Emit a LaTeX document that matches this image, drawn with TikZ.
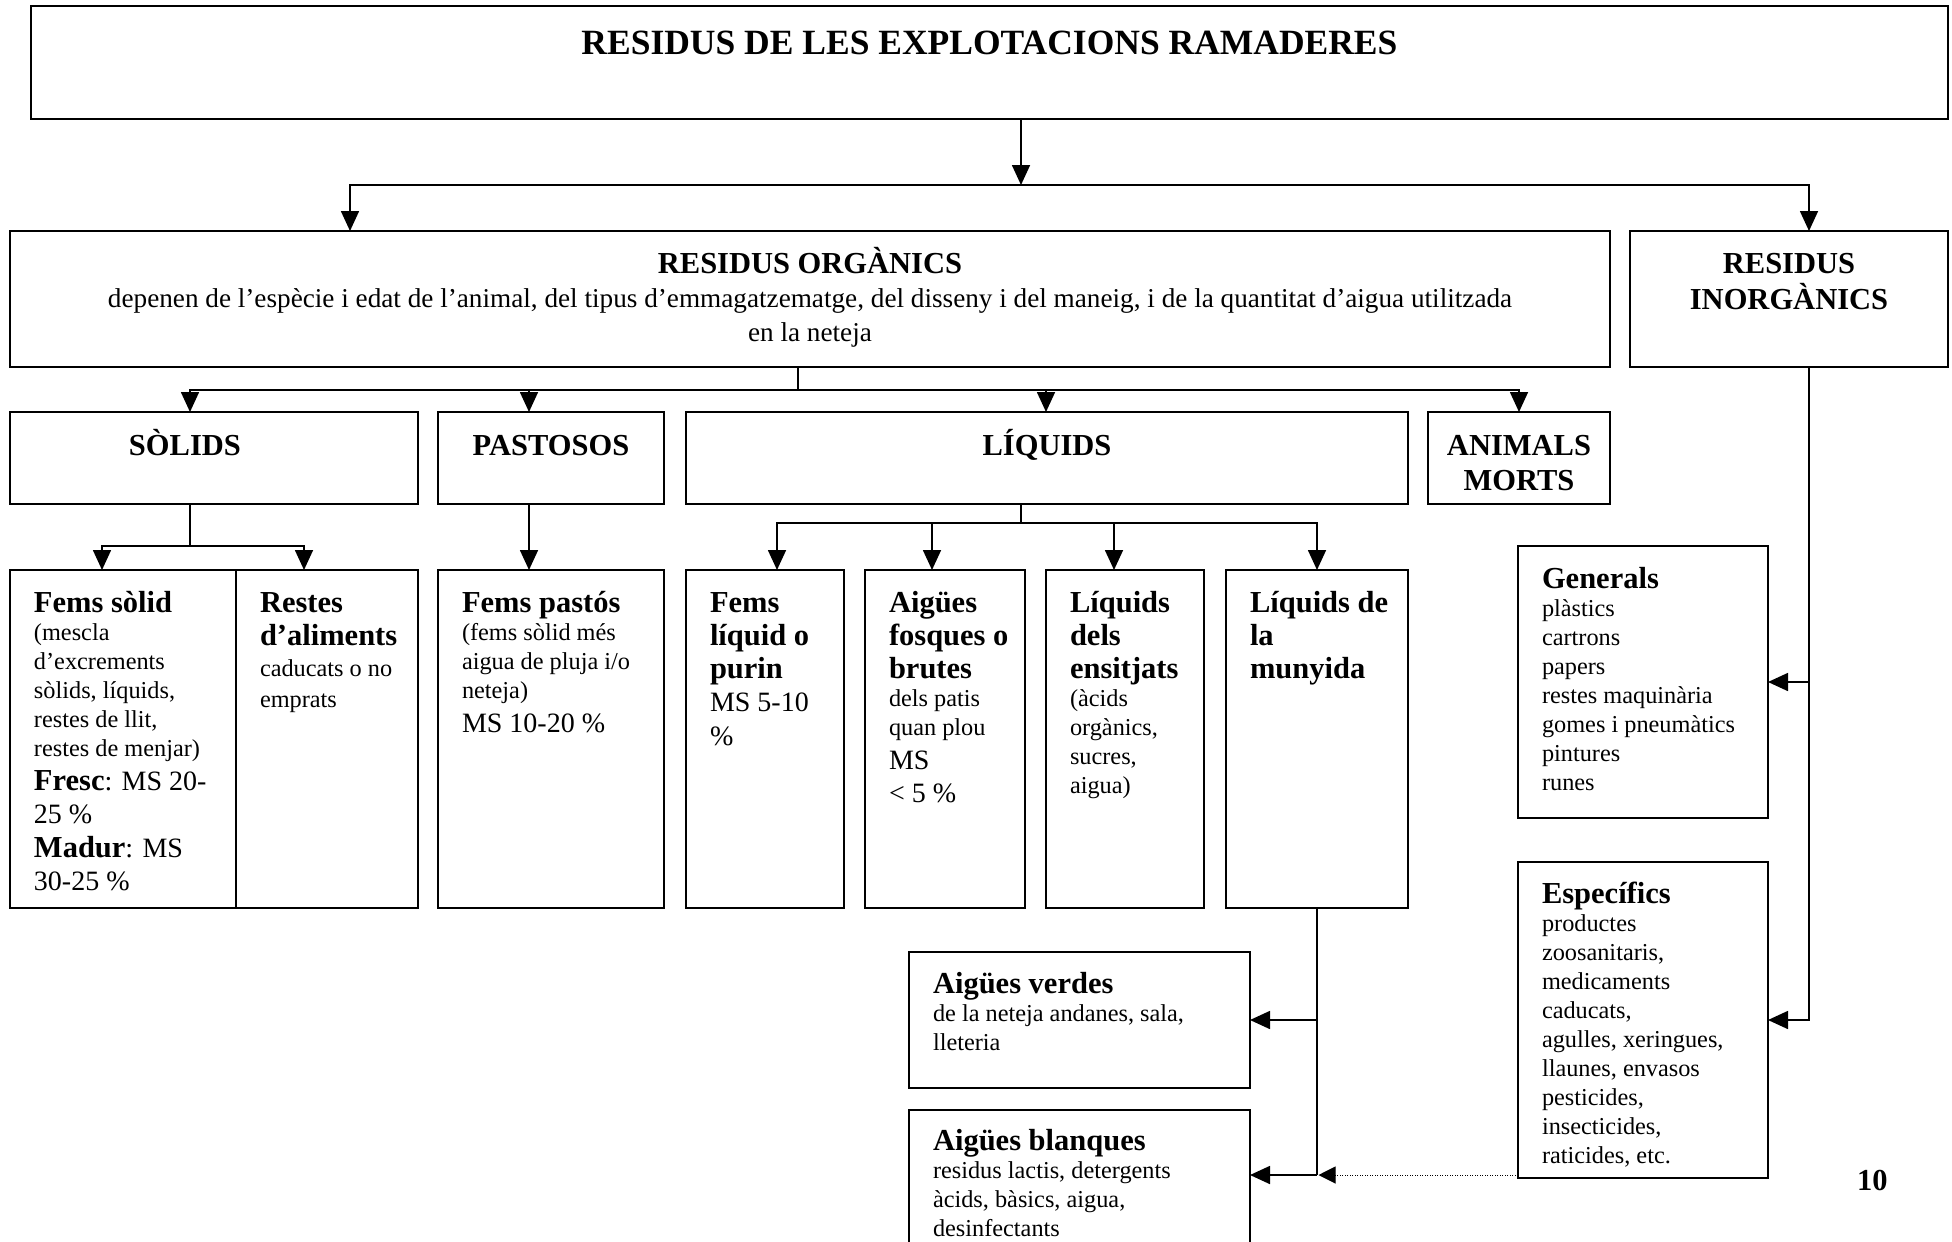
\documentclass[tikz,border=0pt]{standalone}
\usepackage{fontspec}
\setmainfont{Liberation Serif}
\usetikzlibrary{arrows.meta,positioning}
\newcommand{\hdf}{\fontsize{30.5}{33}\selectfont\bfseries}
\newcommand{\smf}{\normalfont\fontsize{24.3}{28.9}\selectfont}
\newcommand{\msf}{\normalfont\fontsize{28}{33.5}\selectfont}
\newcommand{\firstln}[1]{\rule{0pt}{#1}}
\newcommand{\cellL}[3]{\parbox[t][#2][t]{#1}{\raggedright\leftskip=24pt\relax #3\par}}
\newcommand{\cellC}[3]{\parbox[t][#2][t]{#1}{\centering #3\par}}

\begin{document}
\begin{tikzpicture}[x=1pt,y=-1pt]

\tikzset{
	cell/.style={
		draw,
		line width=2pt,
		inner sep=0pt,
		outer sep=0pt,
		anchor=north west},
	link/.style={
		line width=1.7pt},
	arr/.style={
		link,
		-{Triangle[length=20pt,width=18pt]}},
	dotarr/.style={
		line width=1pt,
		dash pattern=on 1pt off 1.5pt,
		-{Triangle[length=17pt,width=17pt]}}
}

\useasboundingbox (0,0) rectangle (1952,1242);
\clip (0,0) rectangle (1952,1242);

\node[cell] (title) at (31,6) {\cellC{1917pt}{113pt}{\fontsize{35.5}{40}\selectfont\bfseries\firstln{48pt}RESIDUS DE LES EXPLOTACIONS RAMADERES}};

\node[cell] (org) at (10,231) {\cellC{1600pt}{136pt}{\hdf\firstln{42pt}RESIDUS ORGÀNICS\par
\normalfont\fontsize{27.2}{34}\selectfont depenen de l’espècie i edat de l’animal, del tipus d’emmagatzematge, del disseny i del maneig, i de la quantitat d’aigua utilitzada\\ en la neteja}};

\node[cell,right=20pt of org.north east,anchor=north west] (inorg) {\cellC{318pt}{136pt}{\fontsize{30.5}{36}\selectfont\bfseries\firstln{42pt}RESIDUS\\ INORGÀNICS}};

% classes de residus organics
\node[cell] (sol) at (10,412) {\cellL{408pt}{92pt}{\leftskip=119pt\hdf\firstln{43pt}SÒLIDS}};
\node[cell,right=20pt of sol.north east,anchor=north west] (past) {\cellC{226pt}{92pt}{\hdf\firstln{43pt}PASTOSOS}};
\node[cell,right=22pt of past.north east,anchor=north west] (liq) {\cellC{722pt}{92pt}{\hdf\firstln{43pt}LÍQUIDS}};
\node[cell,right=20pt of liq.north east,anchor=north west] (anim) {\cellC{182pt}{92pt}{\fontsize{30.5}{35}\selectfont\bfseries\firstln{43pt}ANIMALS\\ MORTS}};

% tercer nivell
\node[cell] (fsol) at (10,570) {\cellL{226pt}{338pt}{\hdf\firstln{42pt}Fems sòlid\par
\smf (mescla\\ d’excrements\\ sòlids, líquids,\\ restes de llit,\\ restes de menjar)\par
\msf{\hdf Fresc}: MS 20-\\ 25 \%\\ {\hdf Madur}: MS\\ 30-25 \%}};
\node[cell,right=0pt of fsol.north east,anchor=north west] (rest) {\cellL{182pt}{338pt}{\hdf\firstln{42pt}Restes\\ d’aliments\par
\normalfont\fontsize{24.3}{31}\selectfont caducats o no\\ emprats}};
\node[cell,right=20pt of rest.north east,anchor=north west] (fpas) {\cellL{226pt}{338pt}{\hdf\firstln{42pt}Fems pastós\par
\smf (fems sòlid més\\ aigua de pluja i/o\\ neteja)\par
\msf MS 10-20 \%}};
\node[cell,right=22pt of fpas.north east,anchor=north west] (flq) {\cellL{158pt}{338pt}{\hdf\firstln{42pt}Fems\\ líquid o\\ purin\par
\msf MS 5-10\\ \%}};
\node[cell,right=21pt of flq.north east,anchor=north west] (afos) {\cellL{160pt}{338pt}{\hdf\firstln{42pt}Aigües\\ fosques o\\ brutes\par
\smf dels patis\\ quan plou\par
\msf MS\\ < 5 \%}};
\node[cell,right=21pt of afos.north east,anchor=north west] (ens) {\cellL{158pt}{338pt}{\hdf\firstln{42pt}Líquids\\ dels\\ ensitjats\par
\smf (àcids\\ orgànics,\\ sucres,\\ aigua)}};
\node[cell,right=22pt of ens.north east,anchor=north west] (muny) {\cellL{182pt}{338pt}{\hdf\firstln{42pt}Líquids de\\ la\\ munyida}};

\node[cell] (verd) at (909,952) {\cellL{341pt}{136pt}{\hdf\firstln{41pt}Aigües verdes\par
\smf de la neteja andanes, sala,\\ lleteria}};
\node[cell,below=22pt of verd.south west,anchor=north west] (blan) {\cellL{341pt}{150pt}{\hdf\firstln{40pt}Aigües blanques\par
\smf residus lactis, detergents\\ àcids, bàsics, aigua,\\ desinfectants}};

% residus inorganics
\node[cell] (gen) at (1518,546) {\cellL{250pt}{272pt}{\hdf\firstln{42pt}Generals\par
\smf plàstics\\ cartrons\\ papers\\ restes maquinària\\ gomes i pneumàtics\\ pintures\\ runes}};
\node[cell,below=44pt of gen.south west,anchor=north west] (esp) {\cellL{250pt}{316pt}{\hdf\firstln{41pt}Específics\par
\smf productes\\ zoosanitaris,\\ medicaments\\ caducats,\\ agulles, xeringues,\\ llaunes, envasos\\ pesticides,\\ insecticides,\\ raticides, etc.}};

\node[anchor=base west,inner sep=0pt] (pg) at (1857,1190) {\hdf 10};

% connectors
\coordinate (tj) at (1021,185);
\draw[arr] (tj |- title.south) -- (tj);
\draw[arr] (tj) -| ([xshift=340pt]org.north west);
\draw[arr] (tj) -| ([xshift=179pt]inorg.north west);

\coordinate (oj) at (798,390);
\draw[link] (oj |- org.south) -- (oj);
\draw[arr] (oj) -| ([xshift=180pt]sol.north west);
\draw[arr] (oj) -| ([xshift=91pt]past.north west);
\draw[arr] (oj) -| ([xshift=360pt]liq.north west);
\draw[arr] (oj) -| (anim.north);

\coordinate (sj) at (190,546);
\draw[link] (sj |- sol.south) -- (sj);
\draw[arr] (sj) -| ([xshift=92pt]fsol.north west);
\draw[arr] (sj) -| ([xshift=68pt]rest.north west);
\draw[arr] ([xshift=91pt]past.south west) -- ([xshift=91pt]fpas.north west);

\coordinate (lj) at (1021,523);
\draw[link] (lj |- liq.south) -- (lj);
\draw[arr] (lj) -| ([xshift=91pt]flq.north west);
\draw[arr] (lj) -| ([xshift=67pt]afos.north west);
\draw[arr] (lj) -| ([xshift=68pt]ens.north west);
\draw[arr] (lj) -| (muny.north);

\coordinate (mj) at (1317,1175);
\draw[link] (muny.south) -- (mj);
\draw[arr] (muny.south |- verd.east) -- (verd.east);
\draw[arr] (mj) -- (mj -| blan.east);

\draw[arr] ([xshift=179pt]inorg.south west) |- (gen.east);
\draw[arr] ([xshift=179pt]inorg.south west) |- (esp.east);
\draw[dotarr] ([yshift=3pt]esp.south west) -- ([xshift=1.5pt]mj);

\end{tikzpicture}
\end{document}
